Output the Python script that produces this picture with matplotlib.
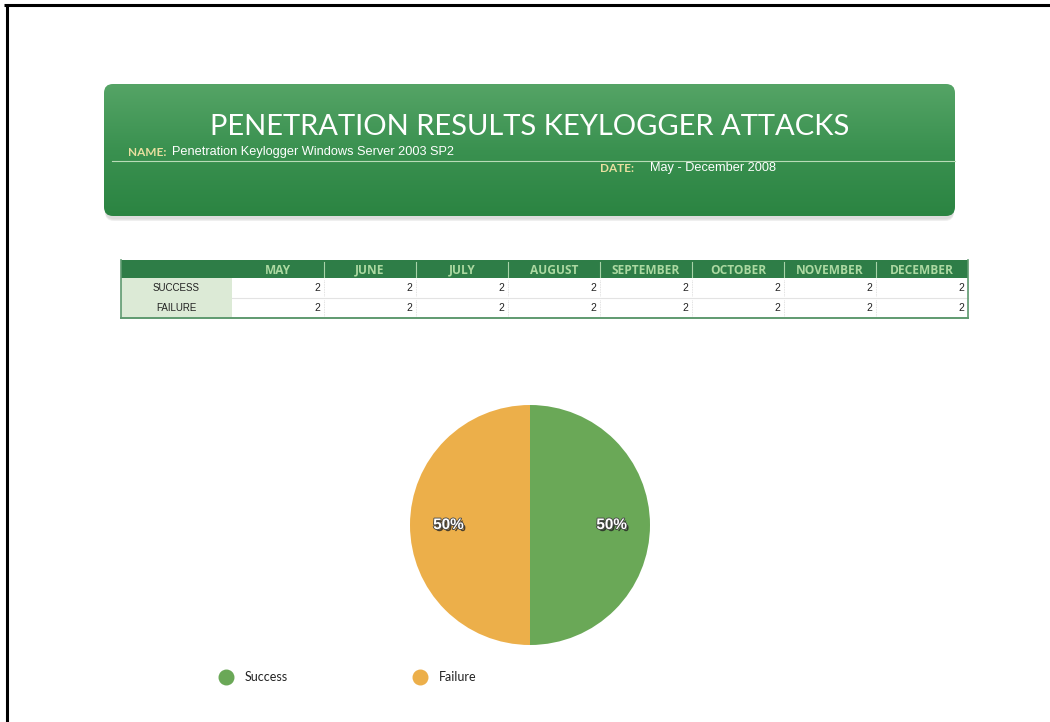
import matplotlib
matplotlib.use("Agg")
import matplotlib.pyplot as plt
import numpy as np
from matplotlib.patches import FancyBboxPatch, Rectangle
from matplotlib.colors import LinearSegmentedColormap
import matplotlib.patheffects as pe

# data
months = ["MAY", "JUNE", "JULY", "AUGUST", "SEPTEMBER", "OCTOBER", "NOVEMBER", "DECEMBER"]
row_labels = ["SUCCESS", "FAILURE"]
success = [2, 2, 2, 2, 2, 2, 2, 2]
failure = [2, 2, 2, 2, 2, 2, 2, 2]
pie_labels = ["Success", "Failure"]
pie_values = [sum(success), sum(failure)]
pie_colors = ["#6aa857", "#ecaf4a"]

title = "PENETRATION RESULTS KEYLOGGER ATTACKS"
name_text = "Penetration Keylogger Windows Server 2003 SP2"
date_text = "May - December 2008"

W, H = 1050, 722
fig = plt.figure(figsize=(W / 100, H / 100), dpi=100)
bg = fig.add_axes([0, 0, 1, 1])
bg.set_xlim(0, W)
bg.set_ylim(H, 0)
bg.axis("off")

# page border (top + left only)
bg.plot([4, W], [5, 5], color="black", lw=2.2, solid_capstyle="butt")
bg.plot([7, 7], [4, H], color="black", lw=2.2, solid_capstyle="butt")

# banner with shadow + gradient
bx0, by0, bx1, by1 = 104, 84, 955, 216
for i, a in enumerate([0.05, 0.07, 0.09]):
    sh = FancyBboxPatch((bx0 + 1, by0 + 3 + i), bx1 - bx0 - 2, by1 - by0, boxstyle="round,pad=0,rounding_size=9",
                        fc="#555555", ec="none", alpha=a, zorder=1)
    bg.add_patch(sh)
banner = FancyBboxPatch((bx0, by0), bx1 - bx0, by1 - by0, boxstyle="round,pad=0,rounding_size=9",
                        fc="none", ec="none", zorder=2)
bg.add_patch(banner)
grad = np.linspace(0, 1, 256).reshape(-1, 1)
cmap = LinearSegmentedColormap.from_list("g", ["#55a466", "#3a9150", "#2b8442"])
im = bg.imshow(grad, extent=(bx0, bx1, by1, by0), cmap=cmap, aspect="auto", zorder=2, origin="upper")
im.set_clip_path(banner)

bg.text(530, 127, title, color="white", fontsize=21, fontfamily="Lato", fontweight="normal",
        ha="center", va="center", zorder=3)
bg.text(128, 152, "NAME:", color="#e9dfa0", fontsize=8.5, fontweight="bold", fontfamily="Lato",
        ha="left", va="center", zorder=3)
bg.text(172, 152, name_text, color="white", fontsize=9.2, fontfamily="Liberation Sans",
        ha="left", va="center", zorder=3)
bg.plot([112, bx1], [161, 161], color="#b9dcb8", lw=0.8, zorder=3)
bg.text(600, 168, "DATE:", color="#e9dfa0", fontsize=8.5, fontweight="bold", fontfamily="Lato",
        ha="left", va="center", zorder=3)
bg.text(650, 168, date_text, color="white", fontsize=9.2, fontfamily="Liberation Sans",
        ha="left", va="center", zorder=3)

# table
tx0, lab_w, col_w = 121, 111, 92
ty0, head_h, row_h = 260, 18, 20
tx1 = tx0 + lab_w + col_w * len(months)
bg.add_patch(Rectangle((tx0, ty0), tx1 - tx0, head_h, fc="#2e7d47", ec="none"))
for j, m in enumerate(months):
    cx = tx0 + lab_w + col_w * j
    bg.text(cx + col_w / 2, ty0 + head_h / 2 + 1, m, color="#acd9a2", fontsize=8.6, fontweight="bold",
            fontfamily="Open Sans", ha="center", va="center")
    if j > 0:
        bg.plot([cx, cx], [ty0 + 2, ty0 + head_h - 1], color="#a8d3a8", lw=0.8)
rows = [success, failure]
for i, (lab, vals) in enumerate(zip(row_labels, rows)):
    ry = ty0 + head_h + row_h * i
    bg.add_patch(Rectangle((tx0, ry), lab_w, row_h, fc="#dcead6", ec="none"))
    bg.text(tx0 + lab_w / 2, ry + row_h / 2, lab, fontsize=7, fontfamily="Liberation Sans",
            ha="center", va="center", color="#222222")
    for j, v in enumerate(vals):
        cx = tx0 + lab_w + col_w * j
        bg.text(cx + col_w - 4, ry + row_h / 2, str(v), fontsize=7.5, fontfamily="Liberation Sans",
                ha="right", va="center", color="#222222")
        bg.plot([cx + col_w, cx + col_w], [ry + 2, ry + row_h - 2], color="#d8d8d8", lw=0.6, ls=(0, (1, 1)))
bg.plot([tx0 + lab_w, tx1], [ty0 + head_h + row_h, ty0 + head_h + row_h], color="#e3e3e3", lw=0.8)
tb = ty0 + head_h + 2 * row_h
bg.plot([tx0, tx1], [tb, tb], color="#5f9a70", lw=1.4)
bg.plot([tx0, tx0], [ty0, tb], color="#5f9a70", lw=1.2)
bg.plot([tx1, tx1], [ty0, tb], color="#5f9a70", lw=1.2)

# pie
pcx, pcy, r = 530, 525, 120
pax = fig.add_axes([(pcx - r) / W, 1 - (pcy + r) / H, 2 * r / W, 2 * r / H])
wedges, texts, autotexts = pax.pie(pie_values, colors=pie_colors, startangle=90, counterclock=False,
                                   autopct="%d%%", pctdistance=0.68, radius=1,
                                   textprops=dict(color="white", fontsize=11, fontweight="bold",
                                                  fontfamily="Liberation Sans"))
for t in autotexts:
    t.set_path_effects([pe.withSimplePatchShadow(offset=(1.5, -1.5), shadow_rgbFace="#222222", alpha=0.8),
                        pe.withStroke(linewidth=1.2, foreground="#444444")])
pax.set_xlim(-1, 1)
pax.set_ylim(-1, 1)
pax.set_aspect("equal")
pax.axis("off")

# legend
for (lx, lab, col) in [(226, pie_labels[0], pie_colors[0]), (420, pie_labels[1], pie_colors[1])]:
    bg.scatter([lx], [677], s=110, color=col, zorder=3)
    bg.text(lx + 19, 677, lab, fontsize=9, fontfamily="Lato", ha="left", va="center", color="#222222")

fig.savefig("out.png", dpi=100)
